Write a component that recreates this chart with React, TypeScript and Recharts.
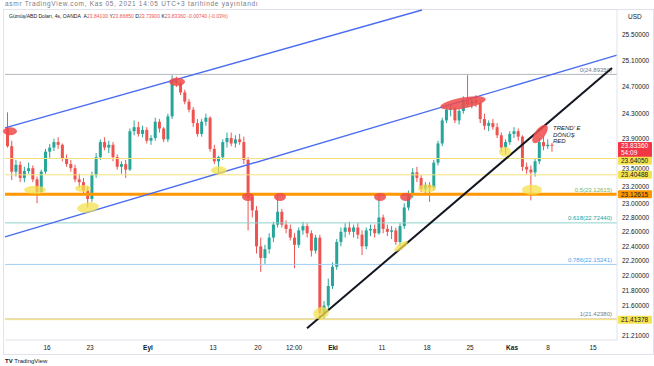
import React from 'react';
import { ComposedChart, Bar, XAxis, YAxis, ReferenceLine, ReferenceDot } from 'recharts';

const W = 654;
const H = 366;
const FONT = "'Liberation Sans', Arial, sans-serif";

// 12-hour candles (2 per trading day), starting Mon 9 Aug 2021
const opens = [24.08, 23.82, 23.45, 23.55, 23.36, 23.46, 23.5, 23.34, 23.16, 23.45, 23.74, 23.8, 23.88, 23.84, 23.64, 23.56, 23.5, 23.34, 23.3, 23.18, 23.06, 23.4, 23.66, 23.88, 23.8, 23.84, 23.66, 23.52, 23.56, 23.48, 24.04, 24.1, 24.0, 24.06, 23.9, 23.94, 24.18, 24.08, 23.92, 24.26, 24.8, 24.76, 24.62, 24.48, 24.36, 24.16, 24.0, 24.18, 24.24, 23.78, 23.6, 23.66, 23.88, 23.94, 23.86, 23.92, 23.88, 23.62, 23.08, 22.9, 22.4, 22.24, 22.36, 22.52, 22.7, 22.88, 22.7, 22.64, 22.52, 22.42, 22.62, 22.68, 22.58, 22.34, 22.52, 21.5, 21.6, 21.86, 22.12, 22.46, 22.6, 22.66, 22.6, 22.66, 22.56, 22.4, 22.62, 22.64, 22.58, 22.8, 22.64, 22.6, 22.62, 22.46, 22.68, 22.94, 23.12, 23.44, 23.36, 23.2, 23.26, 23.22, 23.58, 23.86, 24.2, 24.36, 24.38, 24.2, 24.34, 24.5, 24.44, 24.5, 24.46, 24.22, 24.12, 24.16, 24.1, 23.98, 23.8, 23.88, 24.0, 24.04, 23.96, 23.52, 23.48, 23.44, 23.6, 23.88, 23.82, 23.841];
const highs = [24.32, 23.9, 23.62, 23.6, 23.52, 23.58, 23.54, 23.38, 23.48, 23.78, 23.85, 23.93, 23.95, 23.86, 23.7, 23.62, 23.55, 23.42, 23.36, 23.24, 23.45, 23.72, 23.92, 23.95, 23.9, 23.88, 23.7, 23.6, 23.62, 24.08, 24.2, 24.18, 24.12, 24.1, 23.98, 24.24, 24.22, 24.1, 24.3, 24.88, 24.86, 24.8, 24.66, 24.52, 24.4, 24.22, 24.22, 24.3, 24.26, 23.84, 23.68, 23.92, 24.02, 24.02, 23.98, 24.0, 23.96, 23.66, 23.14, 22.96, 22.52, 22.42, 22.58, 22.74, 23.12, 22.92, 22.76, 22.7, 22.58, 22.66, 22.74, 22.72, 22.62, 22.56, 22.56, 21.66, 21.96, 22.18, 22.5, 22.66, 22.72, 22.74, 22.7, 22.72, 22.62, 22.66, 22.7, 22.7, 23.14, 22.84, 22.7, 22.68, 22.66, 22.72, 23.0, 23.18, 23.5, 23.52, 23.4, 23.3, 23.3, 23.62, 23.9, 24.24, 24.4, 24.44, 24.4, 24.38, 24.56, 24.88, 24.54, 24.58, 24.5, 24.3, 24.2, 24.22, 24.16, 24.02, 23.92, 24.04, 24.1, 24.08, 23.98, 23.58, 23.54, 23.64, 23.94, 23.96, 23.92, 23.8685];
const lows = [23.8, 23.33, 23.38, 23.3, 23.3, 23.42, 23.3, 23.0, 23.12, 23.42, 23.65, 23.75, 23.78, 23.6, 23.52, 23.45, 23.3, 23.22, 23.12, 22.94, 23.02, 23.36, 23.62, 23.76, 23.72, 23.6, 23.48, 23.42, 23.36, 23.46, 23.98, 23.96, 23.95, 23.86, 23.84, 23.9, 24.02, 23.88, 23.88, 24.22, 24.7, 24.58, 24.44, 24.32, 24.1, 23.96, 23.96, 24.12, 23.74, 23.56, 23.44, 23.62, 23.8, 23.82, 23.8, 23.84, 23.56, 22.62, 22.8, 22.3, 22.05, 22.16, 22.3, 22.46, 22.66, 22.66, 22.58, 22.48, 22.1, 22.38, 22.56, 22.52, 22.26, 22.3, 21.42, 21.42, 21.56, 21.82, 22.08, 22.4, 22.52, 22.56, 22.52, 22.5, 22.28, 22.36, 22.54, 22.52, 22.56, 22.58, 22.54, 22.5, 22.42, 22.4, 22.64, 22.9, 23.08, 23.3, 23.16, 23.14, 23.02, 23.18, 23.54, 23.82, 24.16, 24.26, 24.16, 24.14, 24.3, 24.4, 24.38, 24.4, 24.16, 24.06, 24.04, 24.06, 23.94, 23.74, 23.7, 23.84, 23.94, 23.9, 23.46, 23.42, 23.04, 23.38, 23.56, 23.76, 23.78, 23.739];
const closes = [23.82, 23.45, 23.55, 23.36, 23.46, 23.5, 23.34, 23.16, 23.45, 23.74, 23.8, 23.88, 23.84, 23.64, 23.56, 23.5, 23.34, 23.3, 23.18, 23.06, 23.4, 23.66, 23.88, 23.8, 23.84, 23.66, 23.52, 23.56, 23.48, 24.04, 24.1, 24.0, 24.06, 23.9, 23.94, 24.18, 24.08, 23.92, 24.26, 24.8, 24.76, 24.62, 24.48, 24.36, 24.16, 24.0, 24.18, 24.24, 23.78, 23.6, 23.66, 23.88, 23.94, 23.86, 23.92, 23.88, 23.62, 23.08, 22.9, 22.4, 22.24, 22.36, 22.52, 22.7, 22.88, 22.7, 22.64, 22.52, 22.42, 22.62, 22.68, 22.58, 22.34, 22.52, 21.5, 21.6, 21.86, 22.12, 22.46, 22.6, 22.66, 22.6, 22.66, 22.56, 22.4, 22.62, 22.64, 22.58, 22.8, 22.64, 22.6, 22.62, 22.46, 22.68, 22.94, 23.12, 23.44, 23.36, 23.2, 23.26, 23.22, 23.58, 23.86, 24.2, 24.36, 24.38, 24.2, 24.34, 24.5, 24.44, 24.5, 24.46, 24.22, 24.12, 24.16, 24.1, 23.98, 23.8, 23.88, 24.0, 24.04, 23.96, 23.52, 23.48, 23.44, 23.6, 23.88, 23.82, 23.841, 23.8336];

// x-axis ticks (trading-day units) and labels
const xTickValues = [4.98, 10.07, 16.94, 24.64, 29.97, 34.24, 38.86, 44.66, 50.0, 55.09, 60.07, 64.33, 69.66];
const xTickLabels = ['16', '23', 'Eyl', '13', '20', '12:00', 'Eki', '11', '18', '25', 'Kas', '8', '15'];
const boldLabels = ['Eyl', 'Eki', 'Kas'];

const yTicks = [25.5, 25.1, 24.7, 24.3, 23.9, 23.5, 23.2, 23.0, 22.8, 22.6, 22.4, 22.2, 22.0, 21.8, 21.6, 21.21];
const yTickNudge: Record<string, number> = { '23.9': -2.5, '23.2': -2 };

// Fibonacci levels
const fibValues = [24.8935, 23.12615, 22.7244, 22.15241, 21.4238];
const fibTexts = ['0(24.89350)', '0.5(23.12615)', '0.618(22.72440)', '0.786(22.15241)', '1(21.42380)'];
const fibStroke = ['#b2b5be', '#ff9800', '#8fd3cc', '#9fcdf5', '#cfc79a'];
const fibTextColor = ['#787b86', '#6fb86f', '#22a39a', '#4aa3ee', '#787b86'];

// user horizontal lines
const hLineValues = [23.6405, 23.40488, 21.41378];

// price badges on the axis
const badgeValues = [23.8336, 23.6405, 23.40488, 23.12615, 21.41378];
const badgeTexts = [['23.83360', '54:09'], ['23.64050'], ['23.40488'], ['23.12615'], ['21.41378']];
const badgeBg = ['#f23645', '#f7e34f', '#f7e34f', '#ff9800', '#f7e34f'];
const badgeFg = ['#ffffff', '#131722', '#131722', '#131722', '#131722'];
const badgeShift = [0, 2.2, 0, 0, 0];

// trend lines [x1, y1, x2, y2] in (trading day, price)
const blueUpper = [0, 24.09, 49.4, 25.897];
const blueLower = [0, 22.53, 72.5, 25.19];
const blackTrend = [35.78, 21.3, 71.91, 24.99];

// highlight marks
const yellowDays = [3.55, 9.83, 9.24, 25.35, 37.44, 46.91, 50.0, 59.23, 62.43];
const yellowPrices = [23.19, 22.94, 23.21, 23.47, 21.5, 22.4, 23.21, 23.74, 23.19];
const yellowRx = [11, 11, 8, 8, 8, 8, 9, 6, 10];
const yellowRy = [4, 5, 3.5, 4, 6, 3, 4, 5, 5];
const yellowRot = [0, -8, 0, 0, -20, -35, 0, 0, 0];

const redDays = [0.59, 20.38, 28.79, 32.58, 44.43, 47.51, 54.26, 63.38];
const redPrices = [24.04, 24.78, 23.09, 23.09, 23.09, 23.09, 24.46, 24.0];
const redRx = [7, 8, 6, 6, 6, 6, 23, 11];
const redRy = [4, 4, 4, 4, 4, 4, 5.5, 5];
const redRot = [0, 0, 0, 0, 0, 0, -10, -52];

const noteLines = ["TREND' E", 'DÖNÜŞ', 'RED'];

const UP = '#26a69a';
const DOWN = '#ef5350';

const data = opens.map((o, i) => ({
  t: i / 2 + 0.25,
  o,
  h: highs[i],
  l: lows[i],
  c: closes[i],
  range: [lows[i], highs[i]],
}));

function Candle(props: any) {
  const { x, y, width, height, payload } = props;
  if (!payload || height == null || !isFinite(y)) return null;
  const { o, h, l, c } = payload;
  const lh = Math.log(h);
  const ll = Math.log(l);
  const py = (p: number) => y + ((lh - Math.log(p)) / (lh - ll)) * height;
  const color = c >= o ? UP : DOWN;
  const cx = x + width / 2;
  const top = py(Math.max(o, c));
  const bot = py(Math.min(o, c));
  return (
    <g>
      <line x1={cx} x2={cx} y1={y} y2={y + height} stroke={color} strokeWidth={1} />
      <rect x={x} y={top} width={width} height={Math.max(1, bot - top)} fill={color} />
    </g>
  );
}

function XTick(props: any) {
  const { x, y, payload } = props;
  const i = xTickValues.indexOf(payload.value);
  const label = i >= 0 ? xTickLabels[i] : '';
  return (
    <text x={x} y={y} dy={1.5} textAnchor="middle" fontSize={6.5} fontFamily={FONT}
      fontWeight={boldLabels.includes(label) ? 700 : 400} fill="#131722">{label}</text>
  );
}

function YTick(props: any) {
  const { x, y, payload } = props;
  const nudge = yTickNudge[String(payload.value)] || 0;
  return (
    <text x={x} y={y} dy={2.3 + nudge} textAnchor="start" fontSize={6.5} fontFamily={FONT} fill="#131722">
      {Number(payload.value).toFixed(5)}
    </text>
  );
}

const fibLabel = (i: number) => (props: any) => {
  const vb = props.viewBox || {};
  return (
    <text x={vb.x + vb.width - 5} y={vb.y - 2.5} textAnchor="end" fontSize={6} fontFamily={FONT} fill={fibTextColor[i]}>
      {fibTexts[i]}
    </text>
  );
};

const badgeLabel = (i: number) => (props: any) => {
  const vb = props.viewBox || {};
  const lines = badgeTexts[i];
  const bx = vb.x + vb.width + 1;
  const multi = lines.length > 1;
  const top = vb.y + badgeShift[i] - (multi ? 3.2 : 4);
  const bh = multi ? 15.5 : 8;
  return (
    <g>
      <rect x={bx} y={top} width={34} height={bh} fill={badgeBg[i]} rx={1} />
      {lines.map((s, k) => (
        <text key={k} x={bx + 3} y={top + 6.3 + k * 6.8} fontSize={6.5} fontFamily={FONT} fill={badgeFg[i]}>{s}</text>
      ))}
    </g>
  );
};

const ellipseShape = (rx: number, ry: number, rot: number, fill: string, op: number) => (p: any) => (
  <ellipse cx={p.cx} cy={p.cy} rx={rx} ry={ry} fill={fill} fillOpacity={op}
    transform={`rotate(${rot} ${p.cx} ${p.cy})`} />
);

const noteShape = (p: any) => (
  <g>
    {noteLines.map((s, k) => (
      <text key={k} x={p.cx} y={p.cy + 2 + k * 6.8} fontSize={6} fontStyle="italic" fontFamily={FONT} fill="#131722">{s}</text>
    ))}
  </g>
);

export default function App() {
  return (
    <div style={{ position: 'absolute', left: 0, top: 0, width: W, height: H, background: '#ffffff', fontFamily: FONT, overflow: 'hidden' }}>
      <div style={{ position: 'absolute', left: 3, top: 9, width: 651, height: 346, border: '1px solid #e0e3eb', boxSizing: 'border-box' }} />
      <ComposedChart width={W} height={H} data={data} margin={{ top: 10, right: 0, bottom: 12, left: 5 }}
        style={{ position: 'absolute', left: 0, top: 0 }}>
        <XAxis type="number" dataKey="t" domain={[0, 72.5]} allowDataOverflow ticks={xTickValues}
          interval={0} height={14} tickLine={false} axisLine={{ stroke: '#e0e3eb' }} tick={<XTick />} />
        <YAxis orientation="right" scale="log" domain={[21.148, 25.897]} allowDataOverflow ticks={yTicks}
          interval={0} width={37} tickLine={false} tickSize={3} axisLine={{ stroke: '#e0e3eb' }} tick={<YTick />} />

        {fibValues.map((v, i) => (
          <ReferenceLine key={'f' + i} y={v} stroke={fibStroke[i]} strokeWidth={i === 1 ? 3 : 1} label={fibLabel(i)} />
        ))}
        {hLineValues.map((v, i) => (
          <ReferenceLine key={'h' + i} y={v} stroke="#f5e07e" strokeWidth={1} />
        ))}

        <ReferenceLine segment={[{ x: blueUpper[0], y: blueUpper[1] }, { x: blueUpper[2], y: blueUpper[3] }]}
          stroke="#4a6cf0" strokeWidth={1.4} ifOverflow="visible" />
        <ReferenceLine segment={[{ x: blueLower[0], y: blueLower[1] }, { x: blueLower[2], y: blueLower[3] }]}
          stroke="#4a6cf0" strokeWidth={1.4} ifOverflow="visible" />

        {yellowDays.map((d, i) => (
          <ReferenceDot key={'y' + i} x={d} y={yellowPrices[i]} r={4} ifOverflow="visible"
            shape={ellipseShape(yellowRx[i], yellowRy[i], yellowRot[i], '#f4e04d', 0.75)} />
        ))}

        <Bar dataKey="range" barSize={3} shape={Candle} isAnimationActive={false} />

        <ReferenceLine segment={[{ x: blackTrend[0], y: blackTrend[1] }, { x: blackTrend[2], y: blackTrend[3] }]}
          stroke="#131722" strokeWidth={2} ifOverflow="visible" />

        {redDays.map((d, i) => (
          <ReferenceDot key={'r' + i} x={d} y={redPrices[i]} r={4} ifOverflow="visible"
            shape={ellipseShape(redRx[i], redRy[i], redRot[i], '#ef4a4a', 0.85)} />
        ))}

        <ReferenceDot x={64.92} y={24.09} r={1} ifOverflow="visible" shape={noteShape} />

        {badgeValues.map((v, i) => (
          <ReferenceLine key={'b' + i} y={v} stroke="none" ifOverflow="visible" zIndex={3000} label={badgeLabel(i)} />
        ))}
      </ComposedChart>

      <div style={{ position: 'absolute', left: 5, top: 0, fontSize: 6.5, letterSpacing: '0.7px', lineHeight: '8px', color: '#787b86', whiteSpace: 'nowrap' }}>
        asmr TradingView.com, Kas 05, 2021 14:05 UTC+3 tarihinde yayınlandı
      </div>
      <div style={{ position: 'absolute', left: 9, top: 12, fontSize: 5.05, lineHeight: '8px', color: '#131722', whiteSpace: 'nowrap' }}>
        Gümüş/ABD Doları, 4s, OANDA&nbsp;&nbsp;A<span style={{ color: '#ef5350' }}>23.84100</span>
        &nbsp;Y<span style={{ color: '#ef5350' }}>23.86850</span>
        &nbsp;D<span style={{ color: '#ef5350' }}>23.73900</span>
        &nbsp;K<span style={{ color: '#ef5350' }}>23.83360</span>
        &nbsp;<span style={{ color: '#ef5350' }}>-0.00740 (-0.03%)</span>
      </div>
      <div style={{ position: 'absolute', left: 628, top: 13, fontSize: 6.5, lineHeight: '8px', color: '#131722' }}>USD</div>
      <div style={{ position: 'absolute', left: 5, top: 357, fontSize: 6, lineHeight: '8px', color: '#131722', whiteSpace: 'nowrap' }}>
        <b>TV</b> TradingView
      </div>
    </div>
  );
}
